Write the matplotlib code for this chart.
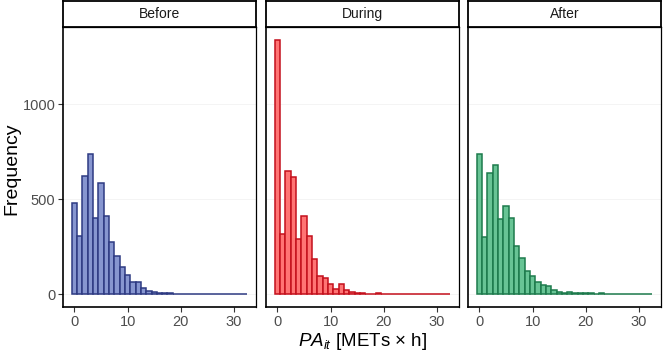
import numpy as np
import matplotlib
matplotlib.use("Agg")
import matplotlib.pyplot as plt

plt.rcParams["font.family"] = ["Liberation Sans", "DejaVu Sans"]
plt.rcParams["mathtext.fontset"] = "custom"
plt.rcParams["mathtext.rm"] = "Liberation Sans"
plt.rcParams["mathtext.it"] = "Liberation Sans:italic"

# ── Data: histogram counts per 1-unit bin (bin centres 0..32) ──────
bin_centers = np.arange(33)
panels = ["Before", "During", "After"]

before = [479, 309, 622, 736, 403, 584, 412, 276, 199, 144, 99, 62, 67, 33, 15,
          14, 9, 6, 5, 3, 4, 3, 3, 4, 2, 2, 2, 0, 0, 0, 0, 0, 1]
during = [1340, 318, 649, 616, 291, 412, 307, 188, 94, 85, 54, 27, 54, 20, 11,
          6, 5, 4, 4, 5, 3, 3, 3, 3, 0, 0, 0, 0, 0, 0, 0, 0, 1]
after = [736, 300, 636, 682, 397, 466, 402, 253, 192, 123, 96, 62, 51, 41, 20,
         10, 9, 12, 6, 5, 6, 5, 4, 9, 3, 3, 2, 1, 1, 1, 1, 1, 2]

counts = [before, during, after]
fills = ["#8796d0", "#ff7474", "#68c495"]
edges = ["#2e3a82", "#c4101c", "#1d7a4c"]

y_ticks = [0, 500, 1000]
x_ticks = [0, 10, 20, 30]

# ── Layout (pixels) ───────────────────────────────────────────────
W, H = 666, 354
fig = plt.figure(figsize=(W / 100, H / 100), dpi=100)

lefts = [63, 266, 468]
pw = 193
top_strip, strip_h = 1, 26
panel_top, panel_bot = 27, 307

def px_rect(x0, y0, w, h):
    return [x0 / W, 1 - (y0 + h) / H, w / W, h / H]

for i, (name, c) in enumerate(zip(panels, counts)):
    ax = fig.add_axes(px_rect(lefts[i], panel_top, pw, panel_bot - panel_top))
    ax.bar(bin_centers, c, width=1.0, color=fills[i], edgecolor=edges[i],
           linewidth=1.1)
    ax.set_xlim(-2.15, 34.15)
    ax.set_ylim(-67, 1407)
    for yv in y_ticks:
        ax.axhline(yv, color="#f2f2f2", linewidth=0.6, zorder=0)
    ax.set_xticks(x_ticks)
    ax.set_yticks(y_ticks)
    ax.tick_params(axis="both", colors="#333333", labelcolor="#4d4d4d",
                   labelsize=10.5, length=3.5, width=0.8, pad=2)
    if i > 0:
        ax.tick_params(axis="y", left=False, labelleft=False)
    for side, sp in ax.spines.items():
        sp.set_color("black")
        sp.set_linewidth(1.2 if side in ("left", "bottom") else 0.9)

    sax = fig.add_axes(px_rect(lefts[i], top_strip, pw, strip_h))
    sax.set_xticks([])
    sax.set_yticks([])
    for sp in sax.spines.values():
        sp.set_color("black")
        sp.set_linewidth(1.3)
    sax.text(0.5, 0.5, name, ha="center", va="center", fontsize=10,
             color="#1a1a1a", transform=sax.transAxes)

fig.text(12 / W, 1 - 169 / H, "Frequency", rotation=90, ha="center",
         va="center", fontsize=14)
fig.text((lefts[1] + pw / 2) / W, 1 - 341 / H, r"$PA_{it}$ [METs $\times$ h]",
         ha="center", va="center", fontsize=13.5)

fig.savefig("out.png", dpi=100)
